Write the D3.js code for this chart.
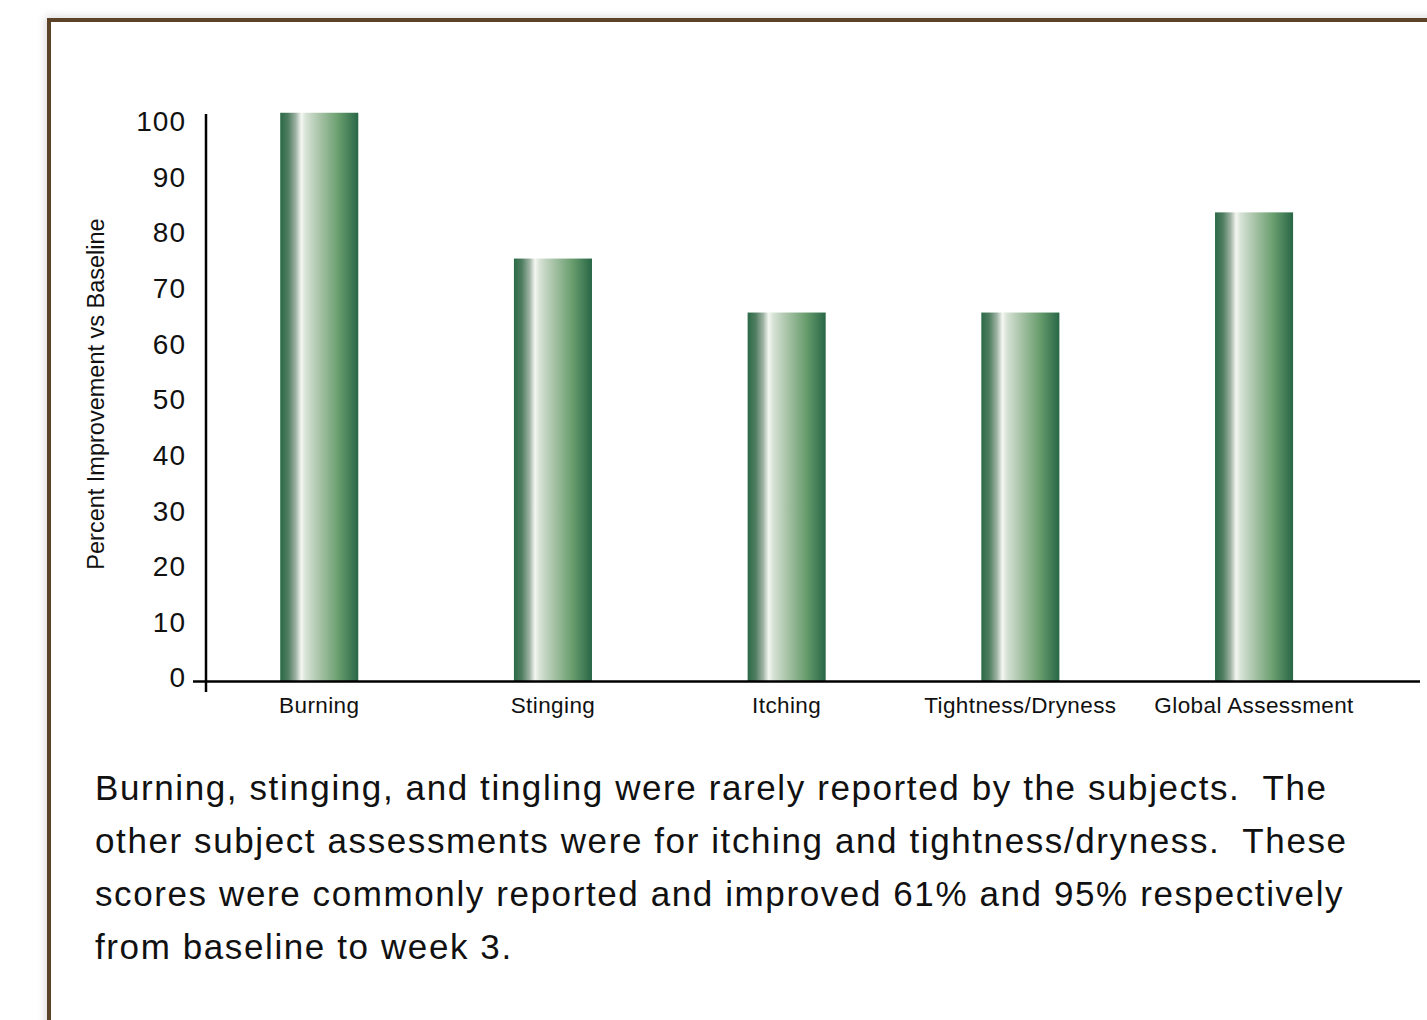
<!DOCTYPE html>
<html>
<head>
<meta charset="utf-8">
<script src="https://cdn.jsdelivr.net/npm/d3@7"></script>
<style>
  html, body { margin: 0; padding: 0; background: #fff; }
  #chart { width: 1427px; height: 1020px; }
  text { font-family: "Liberation Sans", Arial, sans-serif; fill: #111; white-space: pre; }
</style>
</head>
<body>
<div id="chart"></div>
<script>
const categories = ["Burning", "Stinging", "Itching", "Tightness/Dryness", "Global Assessment"];
const improvement = [102.2, 76, 66.3, 66.3, 84.3];
const yTicks = [0, 10, 20, 30, 40, 50, 60, 70, 80, 90, 100];
const yTitle = "Percent Improvement vs Baseline";
const captionLines = [
  "Burning, stinging, and tingling were rarely reported by the subjects.  The",
  "other subject assessments were for itching and tightness/dryness.  These",
  "scores were commonly reported and improved 61% and 95% respectively",
  "from baseline to week 3."
];

const width = 1427, height = 1020;
const svg = d3.select("#chart").append("svg").attr("width", width).attr("height", height);

const defs = svg.append("defs");
const shadow = defs.append("filter").attr("id", "shadow")
  .attr("x", "-5%").attr("y", "-5%").attr("width", "110%").attr("height", "110%");
shadow.append("feGaussianBlur").attr("stdDeviation", 4);

// horizontal sheen across each bar
const grad = defs.append("linearGradient").attr("id", "barGrad")
  .attr("x1", "0%").attr("x2", "100%").attr("y1", "0%").attr("y2", "0%");
[
  [0, "#2b6a47"], [0.1, "#4f7d60"], [0.2, "#9fb3a4"], [0.27, "#f4f7f2"],
  [0.33, "#d6e2d5"], [0.5, "#a9c4a8"], [0.75, "#689d6d"], [1, "#286646"]
].forEach(([o, c]) => grad.append("stop").attr("offset", o).attr("stop-color", c));

// frame
svg.append("rect").attr("x", 49).attr("y", 20).attr("width", 1500).attr("height", 1100)
  .attr("fill", "none").attr("stroke", "#d0d0d0").attr("stroke-width", 6)
  .attr("filter", "url(#shadow)");
svg.append("rect").attr("x", 49).attr("y", 20).attr("width", 1500).attr("height", 1100)
  .attr("fill", "#fff").attr("stroke", "#5c4327").attr("stroke-width", 4);

const y = d3.scaleLinear().domain([0, 100]).range([681.5, 125]);
const x = d3.scaleBand().domain(categories).range([202.4, 1370.9])
  .paddingInner(0.666).paddingOuter(0.333);

const g = svg.append("g");

g.selectAll(".bar")
  .data(categories.map((c, i) => ({ c, v: improvement[i] })))
  .enter().append("rect")
  .attr("class", "bar")
  .attr("x", d => x(d.c))
  .attr("y", d => y(d.v))
  .attr("width", x.bandwidth())
  .attr("height", d => y(0) - y(d.v))
  .attr("fill", "url(#barGrad)");

// axes
const yAxis = g.append("g").attr("transform", "translate(206,0)")
  .call(d3.axisLeft(y).tickValues(yTicks).tickSize(0).tickPadding(20));
yAxis.select(".domain").remove();
yAxis.selectAll("text")
  .attr("font-size", 28).attr("font-family", "Liberation Sans, Arial, sans-serif")
  .attr("letter-spacing", 1)
  .attr("fill", "#111").attr("dy", "0.32em")
  .attr("transform", "translate(0,-3.5)");

g.append("line").attr("x1", 206).attr("x2", 206).attr("y1", 114).attr("y2", 692)
  .attr("stroke", "#000").attr("stroke-width", 2.5);
g.append("line").attr("x1", 193).attr("x2", 1420).attr("y1", y(0)).attr("y2", y(0))
  .attr("stroke", "#000").attr("stroke-width", 2.5);

const xAxis = g.append("g").attr("transform", `translate(0,${y(0)})`)
  .call(d3.axisBottom(x).tickSize(0).tickPadding(16));
xAxis.select(".domain").remove();
xAxis.selectAll("text")
  .attr("font-size", 22.5).attr("font-family", "Liberation Sans, Arial, sans-serif")
  .attr("letter-spacing", 0.4)
  .attr("fill", "#111");

g.append("text")
  .attr("transform", "translate(104,394) rotate(-90)")
  .attr("text-anchor", "middle")
  .attr("font-size", 23.5)
  .text(yTitle);

svg.append("g").selectAll("text")
  .data(captionLines)
  .enter().append("text")
  .attr("x", 95)
  .attr("y", (d, i) => 800 + i * 53)
  .attr("font-size", 35)
  .attr("letter-spacing", 1.6)
  .text(d => d);
</script>
</body>
</html>
